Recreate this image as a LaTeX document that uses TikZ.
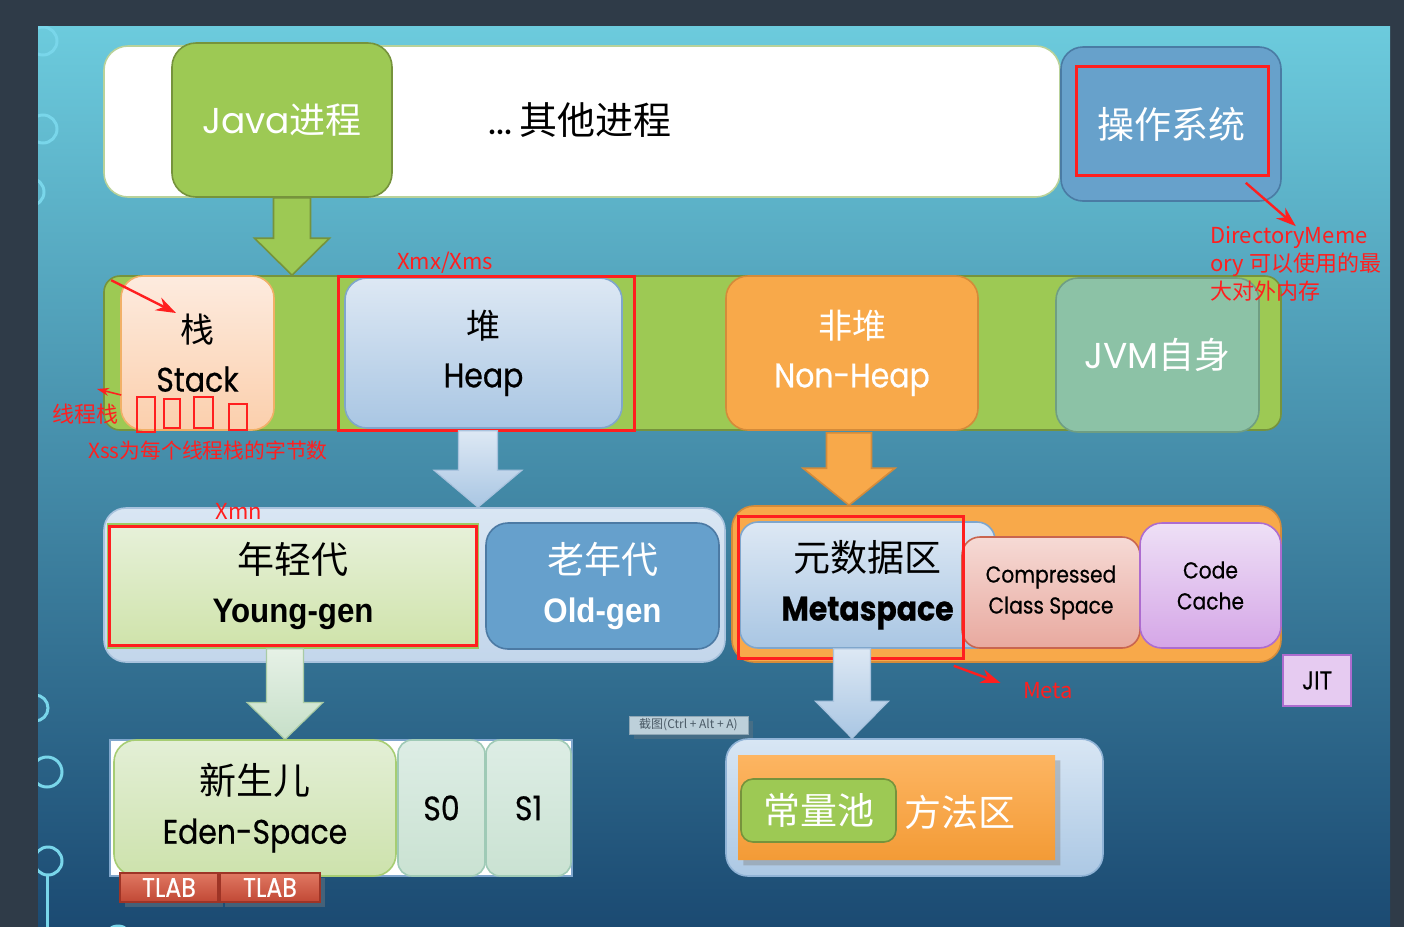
\documentclass[tikz,border=0pt]{standalone}
\usepackage{fontspec}
\setmainfont{Poppins}
\newfontfamily\cjk{Noto Sans CJK SC}
\newfontfamily\latn[FakeStretch=0.88, FakeBold=0.5]{Poppins}
\newfontfamily\arialfont[FakeStretch=0.92]{Liberation Sans}
\usetikzlibrary{arrows.meta, calc, shapes.misc, shadows}

\definecolor{slidebg}{HTML}{2F3B48}
\definecolor{slidetop}{HTML}{6CCBDD}
\definecolor{slidemid}{HTML}{57B6CC}
\definecolor{slidebot}{HTML}{1B4A72}
\definecolor{decor}{HTML}{79D6EA}
\definecolor{javagreen}{HTML}{9DC954}
\definecolor{javaedge}{HTML}{76933C}
\definecolor{procedge}{HTML}{B9D29A}
\definecolor{osblue}{HTML}{67A1CB}
\definecolor{osedge}{HTML}{4A7BA4}
\definecolor{annored}{HTML}{FF1F1F}
\definecolor{stacktop}{HTML}{FDEBDF}
\definecolor{stackbot}{HTML}{FBCFAC}
\definecolor{stackedge}{HTML}{F1B067}
\definecolor{heaptop}{HTML}{DDE8F4}
\definecolor{heapbot}{HTML}{A9C6E3}
\definecolor{heapedge}{HTML}{7FA6CC}
\definecolor{nhorange}{HTML}{F8A94A}
\definecolor{nhedge}{HTML}{D48B3A}
\definecolor{jvmgreen}{HTML}{8CC2A6}
\definecolor{jvmedge}{HTML}{6F9E83}
\definecolor{paneltop}{HTML}{D9E6F3}
\definecolor{panelbot}{HTML}{C3D6EB}
\definecolor{paneledge}{HTML}{A9C3DE}
\definecolor{youngtop}{HTML}{E7F1DA}
\definecolor{youngbot}{HTML}{CFE3AA}
\definecolor{youngedge}{HTML}{9CCB62}
\definecolor{oldblue}{HTML}{66A0CC}
\definecolor{oldedge}{HTML}{4C7AA4}
\definecolor{ccstop}{HTML}{F6DAD5}
\definecolor{ccsbot}{HTML}{E8A99F}
\definecolor{ccsedge}{HTML}{C9654F}
\definecolor{cachetop}{HTML}{EEE0F6}
\definecolor{cachebot}{HTML}{D5A6E7}
\definecolor{cacheedge}{HTML}{AD6CCF}
\definecolor{jitfill}{HTML}{E6CBF1}
\definecolor{edentop}{HTML}{E3EFD6}
\definecolor{edenbot}{HTML}{CDE2AC}
\definecolor{edenedge}{HTML}{A6CD73}
\definecolor{survtop}{HTML}{DDEDE5}
\definecolor{survbot}{HTML}{CAE2D2}
\definecolor{survedge}{HTML}{9FCAB6}
\definecolor{tlabtop}{HTML}{E07862}
\definecolor{tlabbot}{HTML}{C14835}
\definecolor{tlabedge}{HTML}{9E3426}
\definecolor{methtop}{HTML}{FDB562}
\definecolor{methbot}{HTML}{F39B36}
\definecolor{methpaneltop}{HTML}{D8E6F4}
\definecolor{methpanelbot}{HTML}{ACC8E4}
\definecolor{methpaneledge}{HTML}{90B3D6}
\definecolor{youngarrtop}{HTML}{E6F1E6}
\definecolor{youngarrbot}{HTML}{C6DFC8}
\definecolor{youngarredge}{HTML}{A9CBA5}
\definecolor{tipfill}{HTML}{BDD0DA}
\definecolor{tipedge}{HTML}{8FA7B5}
\definecolor{tiptext}{HTML}{4A5A66}

% block arrow pointing down: style, from, to, half shaft, half head
\newcommand{\blockarrow}[5]{%
  \filldraw[#1] let \p1=(#2), \p2=(#3) in
    (\x1-#4,\y1) -- (\x1+#4,\y1) -- (\x1+#4,\y2+18.5pt) -- (\x1+#5,\y2+18.5pt)
    -- (\x1,\y2) -- (\x1-#5,\y2+18.5pt) -- (\x1-#4,\y2+18.5pt) -- cycle;}

\begin{document}
\begin{tikzpicture}[
    x=0.5pt, y=-0.5pt,
    box/.style={draw, rounded corners=11pt, line width=0.8pt, inner sep=0pt, align=center},
    big/.style={font=\latn\fontsize{17}{24.5}\selectfont},
    small/.style={font=\latn\fontsize{11.5}{15.5}\selectfont},
    redbox/.style={draw=annored, line width=1.5pt},
    redarr/.style={draw=annored, line width=1.2pt, -{Stealth[length=10pt, width=7pt]}},
    note/.style={text=annored, font=\cjk\fontsize{11}{14}\selectfont, inner sep=0pt},
    tlab/.style={box, sharp corners, draw=tlabedge, top color=tlabtop, bottom color=tlabbot, text=white,
                 minimum height=14.5pt, font=\latn\fontsize{13.5}{14}\selectfont, drop shadow={opacity=0.4}},
    greenarr/.style={fill=javagreen, draw=javaedge, line width=0.8pt},
    bluearr/.style={top color=heaptop, bottom color=heapbot, draw=paneledge, line width=0.6pt},
    orangearr/.style={fill=nhorange, draw=nhedge, line width=0.8pt},
    youngarr/.style={top color=youngarrtop, bottom color=youngarrbot, draw=youngarredge, line width=0.6pt},
    decorline/.style={draw=decor, line width=1.5pt}
  ]
  \useasboundingbox (0,0) rectangle (1404,927);

  % slide background
  \fill[slidebg] (0,0) rectangle (1404,927);
  \shade[top color=slidetop, middle color=slidemid, bottom color=slidebot] (38,26) rectangle (1390,927);
  \begin{scope}
    \clip (38,26) rectangle (1390,927);
    \draw[decorline] (43,41) circle[radius=7pt];
    \draw[decorline] (43,129) circle[radius=7pt];
    \draw[decorline] (30,192) circle[radius=7pt];
    \draw[decorline] (35,708) circle[radius=6.5pt];
    \draw[decorline] (47,772) circle[radius=7.5pt];
    \draw[decorline] (48,861) circle[radius=7pt];
    \draw[decorline] (47,875) -- (47,927);
    \draw[decorline] (118,940) circle[radius=7pt];
  \end{scope}

  % processes
  \node[box, draw=procedge, fill=white, rounded corners=12pt, minimum width=478pt, minimum height=75.5pt] (procs) at (582,121.5) {};
  \node[box, draw=javaedge, fill=javagreen, rounded corners=12pt, minimum width=110pt, minimum height=77pt,
        text=white, font=\fontsize{18}{22}\selectfont] (java) at (282,120) {Java{\cjk 进程}};
  \node[font=\fontsize{19}{22}\selectfont] (others) at (580,120) {...\,{\cjk 其他进程}};
  \node[box, draw=osedge, fill=osblue, minimum width=110pt, minimum height=77pt,
        text=white, font=\cjk\fontsize{18.5}{22}\selectfont] (os) at (1171,124) {操作系统};
  \draw[redbox] (1076,66) rectangle (1268,175);

  % JVM memory
  \node[box, draw=javaedge, fill=javagreen, rounded corners=8pt, minimum width=588.5pt, minimum height=77pt] (band) at (692.5,353) {};
  \blockarrow{greenarr}{[xshift=5pt]java.south}{band.north}{9.25pt}{18.75pt}
  \node[box, big, draw=stackedge, top color=stacktop, bottom color=stackbot, minimum width=76.5pt, minimum height=77pt] (stack) at (197.5,353) {{\cjk 栈}\\Stack};
  \node[box, big, draw=heapedge, top color=heaptop, bottom color=heapbot, minimum width=138.5pt, minimum height=75pt] (heap) at (483.5,353) {{\cjk 堆}\\Heap};
  \node[box, big, draw=nhedge, fill=nhorange, text=white, minimum width=126pt, minimum height=77pt] (nonheap) at (852,353) {{\cjk 非堆}\\Non-Heap};
  \node[box, draw=jvmedge, fill=jvmgreen, text=white, font=\fontsize{18}{22}\selectfont, minimum width=101.5pt, minimum height=77pt] (jvm) at (1157.5,355) {JVM{\cjk 自身}};

  % direct memory note
  \node[note, align=left, anchor=west] (dmnote) at (1210,264) {DirectoryMeme\\ory 可以使用的最\\大对外内存};
  \draw[redarr] ([xshift=-18pt,yshift=9.5pt]os.south east) -- (dmnote.north);

  % stack and heap notes
  \draw[redbox] (338,276) rectangle (634,430);
  \node[note] (xmx) at (445,263) {Xmx/Xms};
  \foreach \a/\b/\c/\d in {137/397/155/432, 164/399/180/428, 194/397/213/428, 229/404/247/430}
    \draw[redbox, line width=1.2pt] (\a,\b) rectangle (\c,\d);
  \coordinate (stacktip) at (176,313);
  \coordinate (threadtip) at (97,389);
  \draw[redarr] ([shift={(4pt,-2.5pt)}]band.north west) -- (stacktip);
  \draw[redarr, line width=0.8pt, -{Stealth[length=6pt, width=4pt]}] ([shift={(0.5pt,-21pt)}]stack.west) -- (threadtip);
  \node[note] (thread) at (86,414) {线程栈};
  \node[note, font=\cjk\fontsize{10.4}{12}\selectfont] (xss) at (208,451) {Xss为每个线程栈的字节数};

  % heap generations
  \node[box, draw=paneledge, top color=paneltop, bottom color=panelbot, minimum width=310.5pt, minimum height=77pt] (heappanel) at (414.5,585) {};
  \blockarrow{bluearr}{[xshift=-2.75pt,yshift=-1pt]heap.south}{heappanel.north}{9.75pt}{22pt}
  \node[box, big, sharp corners, draw=youngedge, top color=youngtop, bottom color=youngbot, minimum width=185pt, minimum height=62pt]
        (young) at (293,586) {{\cjk\fontsize{18.5}{24.5}\selectfont 年轻代}\\{\arialfont\bfseries Young-gen}};
  \draw[redbox] (109,526) rectangle (476,645);
  \node[note] (xmn) at (239,511) {Xmn};
  \node[box, big, draw=oldedge, fill=oldblue, text=white, minimum width=116.5pt, minimum height=63pt]
        (old) at (602.5,586) {{\cjk\fontsize{18.5}{24.5}\selectfont 老年代}\\{\arialfont\bfseries Old-gen}};

  % non-heap parts
  \node[box, draw=nhedge, fill=nhorange, minimum width=274.5pt, minimum height=78pt] (nhpanel) at (1006.5,584) {};
  \blockarrow{orangearr}{[xshift=-1.5pt,yshift=-1pt]nonheap.south}{nhpanel.north}{11.25pt}{23pt}
  \node[box, big, draw=heapedge, top color=heaptop, bottom color=heapbot, rounded corners=9pt, minimum width=127.5pt, minimum height=63pt] (meta) at (867.5,585)
        {{\cjk\fontsize{18.5}{24.5}\selectfont 元数据区}\\\bfseries Metaspace};
  \node[box, small, draw=ccsedge, top color=ccstop, bottom color=ccsbot, rounded corners=9pt, minimum width=89pt, minimum height=55.5pt]
        (ccs) at (1051,592.5) {Compressed\\Class Space};
  \node[box, small, draw=cacheedge, top color=cachetop, bottom color=cachebot, minimum width=70.5pt, minimum height=62.5pt]
        (cache) at (1210.5,585.5) {Code\\Cache};
  \node[box, sharp corners, draw=cacheedge, fill=jitfill, line width=1.2pt, minimum width=34pt, minimum height=25.5pt,
        font=\latn\fontsize{13}{15}\selectfont] (jit) at (1317,680.5) {JIT};
  \draw[redbox] (738,516) rectangle (963,658);
  \node[note] (metanote) at (1048,691) {Meta};
  \draw[redarr] ([shift={(-21pt,-8.5pt)}]meta.south east) -- ([shift={(-11pt,4pt)}]metanote.west);

  % screenshot tip
  \node[draw=tipedge, fill=tipfill, text=tiptext, inner sep=0pt, minimum width=59.5pt, minimum height=9pt,
        font=\cjk\fontsize{6}{7}\selectfont, drop shadow={opacity=0.3}] (tip) at (688.5,725) {截图(Ctrl + Alt + A)};

  % eden and survivors
  \node[draw=heapedge, fill=white, line width=0.6pt, minimum width=231pt, minimum height=68pt] (edenframe) at (341,808) {};
  \blockarrow{youngarr}{[xshift=-4pt]young.south}{edenframe.north}{9.25pt}{19pt}
  \node[box, big, draw=edenedge, top color=edentop, bottom color=edenbot, minimum width=141pt, minimum height=68pt] (eden) at (255,808)
        {{\cjk\fontsize{18.5}{24.5}\selectfont 新生儿}\\Eden-Space};
  \node[box, big, draw=survedge, top color=survtop, bottom color=survbot, rounded corners=7pt, minimum width=43.5pt, minimum height=68pt] (s0) at (441.5,808) {S0};
  \node[box, big, draw=survedge, top color=survtop, bottom color=survbot, rounded corners=7pt, minimum width=42.5pt, minimum height=68pt] (s1) at (528.5,808) {S1};
  \node[tlab, minimum width=49pt] (tlab1) at (169,887.5) {TLAB};
  \node[tlab, minimum width=50pt] (tlab2) at (270,887.5) {TLAB};

  % method area
  \node[box, draw=methpaneledge, top color=methpaneltop, bottom color=methpanelbot, minimum width=188.5pt, minimum height=68.5pt] (methodpanel) at (914.5,807.5) {};
  \blockarrow{bluearr}{[xshift=-7.75pt]meta.south}{methodpanel.north}{9.25pt}{18.25pt}
  \node[chamfered rectangle, chamfered rectangle corners=north east, chamfered rectangle xsep=6pt, chamfered rectangle ysep=6pt,
        top color=methtop, bottom color=methbot, inner sep=0pt, minimum width=158.5pt, minimum height=52.5pt,
        drop shadow={opacity=0.4}] (method) at (896.5,807.5) {};
  \node[text=white, font=\cjk\fontsize{18.5}{22}\selectfont] (methodlbl) at (960,812) {方法区};
  \node[box, draw=javaedge, fill=javagreen, rounded corners=6pt, text=white, minimum width=77.5pt, minimum height=31.5pt,
        font=\cjk\fontsize{18.5}{22}\selectfont] (pool) at (818.5,810.5) {常量池};
\end{tikzpicture}
\end{document}
